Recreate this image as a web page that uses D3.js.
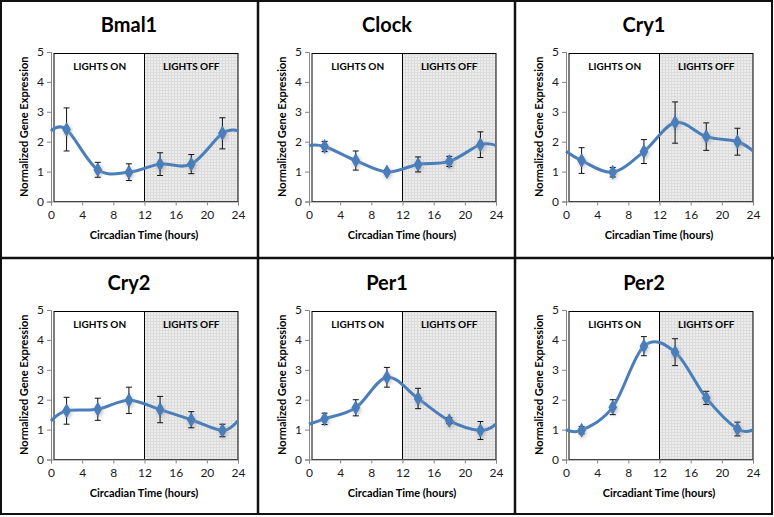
<!DOCTYPE html>
<html><head><meta charset="utf-8">
<script src="https://cdn.jsdelivr.net/npm/d3@7"></script>
<style>
html,body{margin:0;padding:0;background:#fff;}
svg{display:block;}
text{font-family:Lato,"Open Sans",sans-serif;}
</style></head>
<body>
<svg id="chart" width="774" height="517"></svg>
<script>
// ---------- data ----------
const hours = [0, 2, 6, 10, 14, 18, 22, 24];          // first/last = curve ends (no marker)
const xTicks = [0, 4, 8, 12, 16, 20, 24];
const yTicks = [0, 1, 2, 3, 4, 5];
const geneNames = ["Bmal1", "Clock", "Cry1", "Cry2", "Per1", "Per2"];
const xTitles = ["Circadian Time (hours)", "Circadian Time (hours)", "Circadian Time (hours)",
                 "Circadian Time (hours)", "Circadian Time (hours)", "Circadiant Time (hours)"];
const yTitle = "Normalized Gene Expression";
const lightLabels = ["LIGHTS ON", "LIGHTS OFF"];
const lightOn = [0, 12];
const lightOff = [12, 24];

const bmal1 = [2.36, 2.41, 1.06, 0.98, 1.25, 1.25, 2.28, 2.36];
const bmal1Err = [null, 0.72, 0.25, 0.28, 0.38, 0.32, 0.52, null];
const clock = [1.87, 1.84, 1.37, 0.99, 1.24, 1.34, 1.90, 1.87];
const clockErr = [null, 0.17, 0.32, 0.06, 0.25, 0.17, 0.43, null];
const cry1 = [1.68, 1.37, 0.98, 1.67, 2.64, 2.17, 2.00, 1.69];
const cry1Err = [null, 0.43, 0.16, 0.40, 0.69, 0.46, 0.45, null];
const cry2 = [1.29, 1.63, 1.68, 1.98, 1.67, 1.33, 0.97, 1.30];
const cry2Err = [null, 0.45, 0.37, 0.44, 0.44, 0.27, 0.21, null];
const per1 = [1.18, 1.36, 1.73, 2.75, 2.04, 1.30, 0.97, 1.18];
const per1Err = [null, 0.19, 0.27, 0.33, 0.34, 0.10, 0.30, null];
const per2 = [1.00, 0.98, 1.75, 3.79, 3.59, 2.06, 1.02, 1.00];
const per2Err = [null, 0.12, 0.25, 0.32, 0.45, 0.22, 0.23, null];

const seriesVals = [bmal1, clock, cry1, cry2, per1, per2];
const seriesErrs = [bmal1Err, clockErr, cry1Err, cry2Err, per1Err, per2Err];

// ---------- layout ----------
const svg = d3.select("#chart");
const colLeft = [0, 258, 515];
const rowTop = [0, 258];
const blue = "#4a7ebb";

const defs = svg.append("defs");
const pat = defs.append("pattern").attr("id", "grid").attr("patternUnits", "userSpaceOnUse")
  .attr("width", 3).attr("height", 3);
pat.append("rect").attr("width", 3).attr("height", 3).attr("fill", "#ececec");
pat.append("path").attr("d", "M0,0.5H3M0.5,0V3").attr("stroke", "#dcdcdc").attr("stroke-width", 1);

const filt = defs.append("filter").attr("id", "glow").attr("x", "-100%").attr("y", "-100%")
  .attr("width", "300%").attr("height", "300%");
filt.append("feDropShadow").attr("dx", 1).attr("dy", 1.5).attr("stdDeviation", 2.2)
  .attr("flood-color", "#9a9a9a").attr("flood-opacity", 0.75);

geneNames.forEach((name, i) => {
  const col = i % 3, row = Math.floor(i / 3);
  const g = svg.append("g").attr("transform", `translate(${colLeft[col]},${rowTop[row]})`);
  const x = d3.scaleLinear().domain([0, 24]).range([51, 238]);
  const y = d3.scaleLinear().domain([0, 5]).range([201.5, 52]);
  const vals = seriesVals[i], errs = seriesErrs[i];

  // title
  g.append("text").attr("x", 129).attr("y", 32).attr("text-anchor", "middle")
    .attr("font-size", 20).attr("font-weight", "bold").attr("fill", "#000").text(name);

  // light regions
  g.append("rect").attr("x", x(lightOff[0])).attr("y", y(5) + 1.5)
    .attr("width", x(lightOff[1]) - x(lightOff[0])).attr("height", y(0) - y(5) - 1.5)
    .attr("fill", "url(#grid)");
  g.append("rect").attr("x", x(lightOn[0]) + 3).attr("y", y(5) + 1.5)
    .attr("width", x(lightOff[1]) - x(lightOn[0]) - 3).attr("height", y(0) - y(5) - 1.5)
    .attr("fill", "none").attr("stroke", "#000").attr("stroke-width", 1);
  g.append("line").attr("x1", x(lightOn[1])).attr("x2", x(lightOn[1]))
    .attr("y1", y(5) + 1.5).attr("y2", y(0)).attr("stroke", "#000").attr("stroke-width", 1);
  g.append("text").attr("x", (x(lightOn[0]) + x(lightOn[1])) / 2 + 2).attr("y", 70)
    .attr("text-anchor", "middle").attr("font-size", 10).attr("font-weight", "bold").text(lightLabels[0]);
  g.append("text").attr("x", (x(lightOff[0]) + x(lightOff[1])) / 2).attr("y", 70)
    .attr("text-anchor", "middle").attr("font-size", 10).attr("font-weight", "bold").text(lightLabels[1]);

  // axes
  const yAx = g.append("g").attr("transform", `translate(${x(0)},0)`)
    .call(d3.axisLeft(y).tickValues(yTicks).tickSize(4).tickPadding(3).tickFormat(d3.format("d")));
  const xAx = g.append("g").attr("transform", `translate(0,${y(0)})`)
    .call(d3.axisBottom(x).tickValues(xTicks).tickSize(4).tickPadding(5).tickFormat(d3.format("d")));
  [yAx, xAx].forEach(a => {
    a.select(".domain").attr("stroke", "#868686");
    a.selectAll(".tick line").attr("stroke", "#868686");
    a.selectAll(".tick text").attr("font-size", 12).attr("fill", "#1a1a1a")
      .attr("font-family", "Lato, 'Open Sans', sans-serif");
  });

  // axis titles
  g.append("text").attr("x", 144).attr("y", 239).attr("text-anchor", "middle")
    .attr("font-size", 11).attr("font-weight", "bold").text(xTitles[i]);
  g.append("text").attr("transform", `translate(28,${(y(0) + y(5)) / 2}) rotate(-90)`)
    .attr("text-anchor", "middle").attr("font-size", 11).attr("font-weight", "bold").text(yTitle);

  // curve
  const pts = hours.map((h, k) => [h, vals[k]]);
  const line = d3.line().x(d => x(d[0])).y(d => y(d[1])).curve(d3.curveCatmullRom.alpha(0));
  g.append("path").attr("d", line(pts)).attr("fill", "none").attr("stroke", blue)
    .attr("stroke-width", 3).attr("stroke-linejoin", "round");

  // markers (glow), error bars, markers
  const mk = pts.map((p, k) => ({ h: p[0], v: p[1], e: errs[k] })).filter(d => d.e !== null);
  const sym = d3.symbol().type(d3.symbolDiamond).size(60);
  g.selectAll(".glow").data(mk).join("path").attr("class", "glow")
    .attr("transform", d => `translate(${x(d.h)},${y(d.v)})`)
    .attr("d", sym).attr("fill", blue).attr("filter", "url(#glow)");
  const eb = g.selectAll(".eb").data(mk).join("g").attr("class", "eb")
    .attr("stroke", "#111").attr("stroke-width", 1);
  eb.append("line").attr("x1", d => x(d.h)).attr("x2", d => x(d.h))
    .attr("y1", d => y(d.v + d.e)).attr("y2", d => y(d.v - d.e));
  eb.append("line").attr("x1", d => x(d.h) - 3).attr("x2", d => x(d.h) + 3)
    .attr("y1", d => y(d.v + d.e)).attr("y2", d => y(d.v + d.e));
  eb.append("line").attr("x1", d => x(d.h) - 3).attr("x2", d => x(d.h) + 3)
    .attr("y1", d => y(d.v - d.e)).attr("y2", d => y(d.v - d.e));
  g.selectAll(".mk").data(mk).join("path").attr("class", "mk")
    .attr("transform", d => `translate(${x(d.h)},${y(d.v)})`)
    .attr("d", sym).attr("fill", blue);
});

// panel borders
const frame = svg.append("g").attr("stroke", "#111").attr("fill", "none");
frame.append("rect").attr("x", 1).attr("y", 1).attr("width", 771).attr("height", 513).attr("stroke-width", 2);
[258, 515].forEach(v => frame.append("line").attr("x1", v).attr("x2", v).attr("y1", 0).attr("y2", 515).attr("stroke-width", 2.5));
frame.append("line").attr("x1", 0).attr("x2", 774).attr("y1", 258).attr("y2", 258).attr("stroke-width", 2.5);
</script>
</body></html>
